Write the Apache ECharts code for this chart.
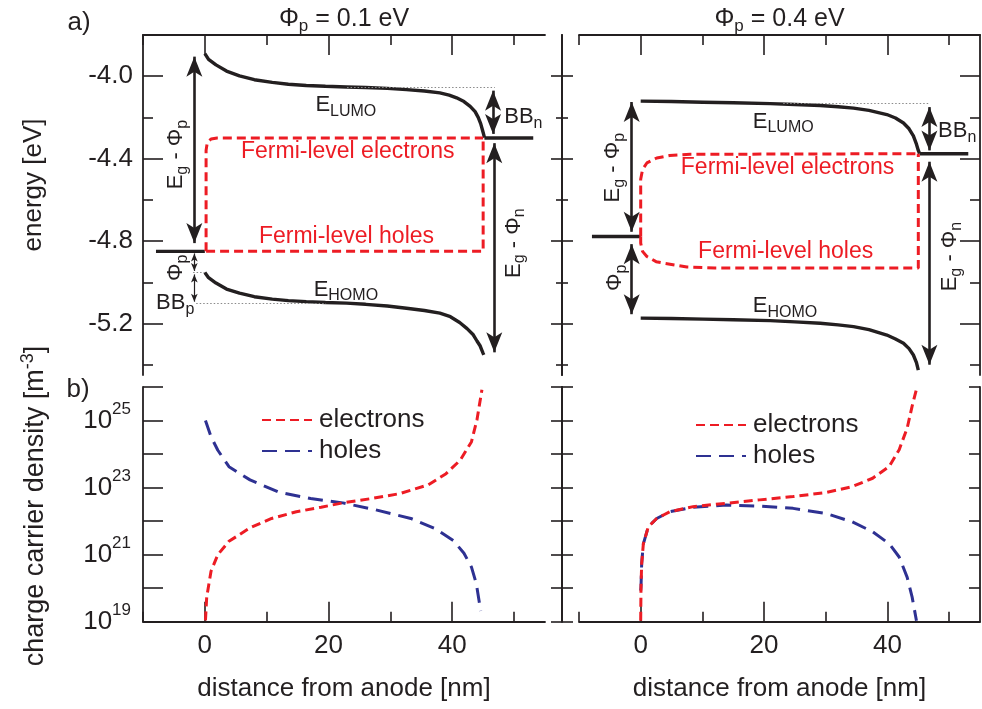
<!DOCTYPE html>
<html><head><meta charset="utf-8">
<script src="https://cdn.jsdelivr.net/npm/echarts@6/dist/echarts.min.js"></script>
<style>html,body{margin:0;padding:0;background:#fff}#c{width:982px;height:709px}</style>
</head><body><div id="c"></div>
<script>
// ---------------- data ----------------
const xMajor = [0, 20, 40];
const xMinor = [-10, 10, 30, 50];
const eMajor = [-4.0, -4.4, -4.8, -5.2];
const eMinor = [-4.2, -4.6, -5.0, -5.4];

// panel a, Φp = 0.1 eV  [distance nm, energy eV]
const lumoA = [[0,-3.89],[0.6,-3.918],[1.8,-3.945],[3.5,-3.975],[5.6,-3.998],[8,-4.017],[10.9,-4.03],[13.5,-4.039],[16.4,-4.045],[19.5,-4.049],[22.9,-4.052],[26,-4.055],[29.5,-4.059],[32.6,-4.065],[35.5,-4.072],[38,-4.081],[39.5,-4.092],[40.7,-4.105],[41.9,-4.123],[42.9,-4.146],[43.7,-4.172],[44.2,-4.2],[44.6,-4.23],[44.9,-4.262],[45.1,-4.285],[45.2,-4.298]];
const homoA = [[0,-4.953],[0.6,-4.978],[1.8,-5.004],[3.5,-5.033],[5.6,-5.053],[8,-5.07],[10.9,-5.082],[13.5,-5.089],[16.4,-5.094],[19.5,-5.098],[22.9,-5.101],[26,-5.107],[29.5,-5.115],[32.6,-5.126],[35.5,-5.137],[38,-5.15],[39.7,-5.167],[41.2,-5.195],[42.4,-5.225],[43.4,-5.255],[44.0,-5.285],[44.5,-5.308],[44.8,-5.33],[45.0,-5.345],[45.1,-5.352]];
const anodeA = [[-7.9,-4.85],[0,-4.85]];
const cathodeA = [[45.2,-4.30],[53.1,-4.30]];
const fermiElA = [[0.2,-4.85],[0.2,-4.36],[0.4,-4.32],[1.0,-4.305],[2,-4.30],[45,-4.30]];
const fermiHoA = [[0.2,-4.85],[45,-4.85],[45,-4.30]];

// panel a, Φp = 0.4 eV
const lumoB = [[0,-4.121],[5,-4.123],[10.1,-4.126],[15,-4.129],[21,-4.133],[25,-4.137],[29.1,-4.142],[32,-4.148],[34.5,-4.155],[37,-4.166],[39.9,-4.186],[41.3,-4.203],[42.6,-4.227],[43.5,-4.255],[44.2,-4.29],[44.7,-4.33],[45.0,-4.36],[45.2,-4.376]];
const homoB = [[0,-5.174],[5,-5.176],[10.1,-5.179],[15,-5.182],[21,-5.186],[25,-5.192],[29.1,-5.199],[32,-5.207],[34.5,-5.215],[37,-5.23],[39.9,-5.256],[41.3,-5.275],[42.6,-5.296],[43.5,-5.322],[44.2,-5.353],[44.7,-5.39],[45.0,-5.426]];
const anodeB = [[-7.9,-4.778],[0,-4.778]];
const cathodeB = [[45.2,-4.376],[53.1,-4.376]];
const fermiElB = [[0,-4.778],[0,-4.50],[0.3,-4.453],[1.0,-4.421],[2.6,-4.397],[4.7,-4.385],[8,-4.379],[45,-4.376]];
const fermiHoB = [[0,-4.778],[0,-4.81],[0.3,-4.85],[1.0,-4.875],[2.5,-4.90],[3.7,-4.907],[7.5,-4.926],[12,-4.931],[45,-4.931],[45,-4.376]];

// panel b, densities [distance nm, m^-3]
const elecA = [[0.1,1.1e19],[0.3,5.4e19],[1.0,3.2e20],[2.1,1e21],[3.9,2.5e21],[7.3,6.3e21],[10.8,1.2e22],[14.8,1.9e22],[18.8,2.6e22],[22.3,3.5e22],[26.9,4.7e22],[31.5,6.6e22],[36.1,1.2e23],[39.0,2.6e23],[41.3,6.6e23],[43.1,2.3e24],[44.0,1.05e25],[44.8,8.3e25]];
const holeA = [[0.1,1e25],[1.0,3.3e24],[2.1,1.3e24],[3.9,4.2e23],[7.3,1.7e23],[11.9,7.4e22],[17.1,4.7e22],[22.3,3.5e22],[27.5,2.2e22],[33.3,1.2e22],[37.3,5.9e21],[40.2,2.6e21],[41.9,1.1e21],[43.1,4.3e20],[43.9,1.35e20],[44.6,2.1e19]];
const elecB = [[0,1.07e19],[0.05,1.07e20],[0.16,5.4e20],[0.43,2.1e21],[1.24,6.8e21],[2.6,1.2e22],[4.7,1.9e22],[8.5,2.7e22],[13.9,3.4e22],[19.3,4.3e22],[24.7,5.4e22],[30.0,7.1e22],[34.3,1.07e23],[37.6,1.9e23],[40.3,4.3e23],[41.9,1.35e24],[43.2,6e24],[44.0,2.7e25],[44.7,8.5e25]];
const holeB = [[0,8.5e19],[0.05,1.1e20],[0.16,5.4e20],[0.43,2.1e21],[1.24,6.8e21],[2.6,1.2e22],[4.7,1.9e22],[8.5,2.6e22],[13.9,3.0e22],[19.3,2.8e22],[24.7,2.4e22],[30.0,1.7e22],[34.3,9.5e21],[37.6,4.8e21],[40.3,2.1e21],[41.9,8.5e20],[43.2,2.1e20],[44.0,5.4e19],[44.7,1.07e19]];

// annotations: arrows [x, from, to], dotted guides, labels
const arrowsA = [[-1.7,-3.905,-4.81],[46.8,-4.325,-5.34],[46.6,-4.07,-4.28]];
const smallArrowsA = [[-1.7,-4.86,-4.945],[-1.7,-4.962,-5.094]];
const dottedA = [[[23,-4.052],[46.9,-4.052]],[[-1.4,-5.10],[19.6,-5.10]],[[-1.9,-4.953],[0,-4.953]]];
const arrowsB = [[-1.46,-4.125,-4.755],[-1.46,-4.815,-5.155],[46.8,-4.415,-5.40],[46.8,-4.15,-4.36]];
const dottedB = [[[23.1,-4.133],[46.9,-4.133]]];

const annotText = {
  lumo: '{m|E}{s|LUMO}', homo: '{m|E}{s|HOMO}',
  fe: '{r|Fermi-level electrons}', fh: '{r|Fermi-level holes}',
  bbn: '{m|BB}{s|n}', bbp: '{m|BB}{s|p}',
  egn: '{m|E}{s|g}{m| - Φ}{s|n}', egp: '{m|E}{s|g}{m| - Φ}{s|p}', phip: '{m|Φ}{s|p}'
};
const annotA = [
  {k:'lumo', at:[22.8,-4.14]}, {k:'homo', at:[22.8,-5.035]},
  {k:'fe', at:[23.1,-4.365]}, {k:'fh', at:[22.9,-4.778]},
  {k:'bbn', at:[51.5,-4.20]}, {k:'egn', at:[49.9,-4.81], rot:90},
  {k:'egp', at:[-4.67,-4.38], rot:90}, {k:'phip', at:[-4.67,-4.93], rot:90},
  {k:'bbp', at:[-4.8,-5.10]}
];
const annotB = [
  {k:'lumo', at:[23.1,-4.22]}, {k:'homo', at:[23.4,-5.115]},
  {k:'fe', at:[23.8,-4.445]}, {k:'fh', at:[23.5,-4.85]},
  {k:'bbn', at:[51.3,-4.264]}, {k:'egn', at:[50.2,-4.875], rot:90},
  {k:'egp', at:[-4.55,-4.444], rot:90}, {k:'phip', at:[-4.2,-4.978], rot:90}
];
const legendNames = ['electrons', 'holes'];

// ---------------- styles ----------------
const FONT = '"Liberation Sans", Arial, Helvetica, sans-serif';
const INK = '#231f20';
const RED = '#ed1c24';
const BLUE = '#2e3192';
const axisLineStyle = {color: INK, width: 1.8};
const tickLineStyle = {color: INK, width: 1.6};
const noBorder = {textBorderWidth: 0, textBorderColor: 'transparent', textShadowBlur: 0};
const annRich = {
  m: Object.assign({fontSize: 22, fontFamily: FONT, color: INK, lineHeight: 24}, noBorder),
  s: Object.assign({fontSize: 16, fontFamily: FONT, color: INK, lineHeight: 16, padding: [13, 0, 0, 0]}, noBorder),
  r: Object.assign({fontSize: 23, fontFamily: FONT, color: RED, lineHeight: 26}, noBorder)
};

const grids = [
  {left: 143, top: 35, width: 402, height: 340},
  {left: 579, top: 35, width: 401, height: 340},
  {left: 143, top: 387, width: 402, height: 234.7},
  {left: 579, top: 387, width: 401, height: 234.7}
];
const xAxes = [], yAxes = [];

function addX(g, position, labels) {
  const idx = xAxes.length;
  xAxes.push({gridIndex: g, type: 'value', min: -10, max: 55, position,
    axisLine: {show: true, onZero: false, lineStyle: axisLineStyle},
    axisTick: {show: true, inside: true, length: 20, customValues: xMajor, lineStyle: tickLineStyle},
    axisLabel: {show: labels, customValues: xMajor, margin: 11, fontSize: 26, fontFamily: FONT, color: INK},
    splitLine: {show: false}});
  xAxes.push({gridIndex: g, type: 'value', min: -10, max: 55, position,
    axisLine: {show: false, onZero: false},
    axisTick: {show: true, inside: true, length: 10, customValues: xMinor, lineStyle: tickLineStyle},
    axisLabel: {show: false}, splitLine: {show: false}});
  return idx;
}
function addYE(g, position, offset, majLen, minLen, labels) {
  const idx = yAxes.length;
  yAxes.push({gridIndex: g, type: 'value', min: -5.45, max: -3.8, position, offset,
    axisLine: {show: true, onZero: false, lineStyle: axisLineStyle},
    axisTick: {show: true, inside: true, length: majLen, customValues: eMajor, lineStyle: tickLineStyle},
    axisLabel: {show: labels, customValues: eMajor, margin: 10, fontSize: 26, fontFamily: FONT, color: INK,
      formatter: v => v.toFixed(1)},
    splitLine: {show: false}});
  yAxes.push({gridIndex: g, type: 'value', min: -5.45, max: -3.8, position, offset,
    axisLine: {show: false, onZero: false},
    axisTick: {show: true, inside: true, length: minLen, customValues: eMinor, lineStyle: tickLineStyle},
    axisLabel: {show: false}, splitLine: {show: false}});
  return idx;
}
function addYN(g, position, offset, len, labels) {
  const idx = yAxes.length;
  yAxes.push({gridIndex: g, type: 'log', logBase: 10, min: 1e19, max: 1e26, position, offset,
    axisLine: {show: true, onZero: false, lineStyle: axisLineStyle},
    axisTick: {show: true, inside: true, length: len, lineStyle: tickLineStyle},
    axisLabel: {show: labels, margin: 12,
      formatter: v => { const e = Math.round(Math.log10(v)); return e % 2 ? '{b|10}{e|' + e + '}' : ''; },
      rich: {b: {fontSize: 26, fontFamily: FONT, color: INK, lineHeight: 28},
             e: {fontSize: 17, fontFamily: FONT, color: INK, lineHeight: 17, padding: [0, 0, 22, 0]}}},
    splitLine: {show: false}, minorTick: {show: false}});
  return idx;
}

// grid 0: top-left, grid 1: top-right, grid 2: bottom-left, grid 3: bottom-right
const x0 = addX(0, 'top', false);
const y0 = addYE(0, 'left', 0, 20, 10, true);
addYE(0, 'right', 17, 11, 6, false);
const x1 = addX(1, 'top', false);
const y1 = addYE(1, 'left', 17, 11, 6, false);
addYE(1, 'right', 0, 20, 10, false);
const x2 = addX(2, 'bottom', true);
const y2 = addYN(2, 'left', 0, 20, true);
addYN(2, 'right', 17, 11, false);
const x3 = addX(3, 'bottom', true);
const y3 = addYN(3, 'left', 17, 11, false);
addYN(3, 'right', 0, 11, false);

function line(name, data, xi, yi, color, width, dash, z) {
  return {type: 'line', name, data, xAxisIndex: xi, yAxisIndex: yi, symbol: 'none', silent: true,
    lineStyle: {color, width, type: dash || 'solid', cap: 'butt'}, itemStyle: {color}, z: z || 2, animation: false};
}
function arrows(xi, yi, list, lw, size) {
  return {type: 'line', name: '_arrows', data: [], xAxisIndex: xi, yAxisIndex: yi, silent: true, symbol: 'none', z: 4,
    markLine: {silent: true, animation: false, symbol: ['arrow', 'arrow'], symbolSize: size, label: {show: false},
      lineStyle: {color: INK, width: lw, type: 'solid'}, emphasis: {disabled: true},
      data: list.map(a => [{coord: [a[0], a[1]]}, {coord: [a[0], a[2]]}])}};
}
function dotted(xi, yi, list) {
  return {type: 'line', name: '_dots', data: [], xAxisIndex: xi, yAxisIndex: yi, silent: true, symbol: 'none', z: 1,
    markLine: {silent: true, animation: false, symbol: ['none', 'none'], label: {show: false},
      lineStyle: {color: '#8a8a8a', width: 1, type: [1.5, 2]}, emphasis: {disabled: true},
      data: list.map(a => [{coord: a[0]}, {coord: a[1]}])}};
}
function labels(xi, yi, list) {
  return {type: 'scatter', name: '_labels', xAxisIndex: xi, yAxisIndex: yi, symbol: 'circle', symbolSize: 0, silent: true, z: 6, animation: false,
    itemStyle: {color: INK},
    data: list.map(it => ({value: it.at, label: Object.assign({show: true, position: 'inside', formatter: annotText[it.k],
      rotate: it.rot || 0, color: INK, opacity: 1, rich: annRich}, noBorder)}))};
}

const BW = 3.4, RDASH = [9, 5], BDASH = [15, 8];
const series = [
  line('LUMO', lumoA, x0, y0, INK, BW), line('HOMO', homoA, x0, y0, INK, BW),
  line('anode', anodeA, x0, y0, INK, BW), line('cathode', cathodeA, x0, y0, INK, BW),
  line('Fermi e', fermiElA, x0, y0, RED, 3, RDASH, 3), line('Fermi h', fermiHoA, x0, y0, RED, 3, RDASH, 3),
  arrows(x0, y0, arrowsA, 2.6, [12, 20]), arrows(x0, y0, smallArrowsA, 1.2, [5, 8]),
  dotted(x0, y0, dottedA), labels(x0, y0, annotA),

  line('LUMO', lumoB, x1, y1, INK, BW), line('HOMO', homoB, x1, y1, INK, BW),
  line('anode', anodeB, x1, y1, INK, BW), line('cathode', cathodeB, x1, y1, INK, BW),
  line('Fermi e', fermiElB, x1, y1, RED, 3, RDASH, 3), line('Fermi h', fermiHoB, x1, y1, RED, 3, RDASH, 3),
  arrows(x1, y1, arrowsB, 2.6, [12, 20]),
  dotted(x1, y1, dottedB), labels(x1, y1, annotB),

  line('holes', holeA, x2, y2, BLUE, 3, BDASH), line('electrons', elecA, x2, y2, RED, 3, RDASH, 3),
  line('holes', holeB, x3, y3, BLUE, 3, BDASH), line('electrons', elecB, x3, y3, RED, 3, RDASH, 3)
];

function legend(left, top) {
  return {data: legendNames, orient: 'vertical', left, top, itemWidth: 50, itemHeight: 14, itemGap: 0,
    selectedMode: false, itemStyle: {opacity: 0, borderWidth: 0},
    textStyle: {fontSize: 26, fontFamily: FONT, color: INK, lineHeight: 31, padding: [0, 0, 0, 2]}};
}

const txt = (x, y, text, opts) => Object.assign({type: 'text', x, y, silent: true,
  style: Object.assign({text, fontSize: 26, fontFamily: FONT, fill: INK, align: 'center', verticalAlign: 'middle'}, (opts || {}).style)},
  opts && opts.rotation ? {rotation: opts.rotation} : {});
const titleRich = {m: {fontSize: 25, fontFamily: FONT, fill: INK, lineHeight: 28},
                   s: {fontSize: 17, fontFamily: FONT, fill: INK, lineHeight: 17, padding: [14, 0, 0, 0]}};

const chart = echarts.init(document.getElementById('c'), null, {renderer: 'canvas'});
chart.setOption({
  animation: false,
  backgroundColor: '#ffffff',
  grid: grids,
  xAxis: xAxes,
  yAxis: yAxes,
  legend: [legend(256, 399.5), legend(690, 404.5)],
  series,
  graphic: [
    txt(79, 23, 'a)'), txt(78, 390, 'b)'),
    txt(344, 19, '{m|Φ}{s|p}{m| = 0.1 eV}', {style: {rich: titleRich}}),
    txt(779.5, 19, '{m|Φ}{s|p}{m| = 0.4 eV}', {style: {rich: titleRich}}),
    txt(34, 185, 'energy [eV]', {rotation: Math.PI / 2}),
    txt(36, 506, '{m|charge carrier density [m}{u|-3}{m|]}', {rotation: Math.PI / 2, style: {rich: {
      m: {fontSize: 27, fontFamily: FONT, fill: INK, lineHeight: 29},
      u: {fontSize: 18, fontFamily: FONT, fill: INK, lineHeight: 18, padding: [0, 0, 16, 0]}}}}),
    txt(344, 689, 'distance from anode [nm]'),
    txt(779.5, 689, 'distance from anode [nm]')
  ]
});
</script>
</body></html>
